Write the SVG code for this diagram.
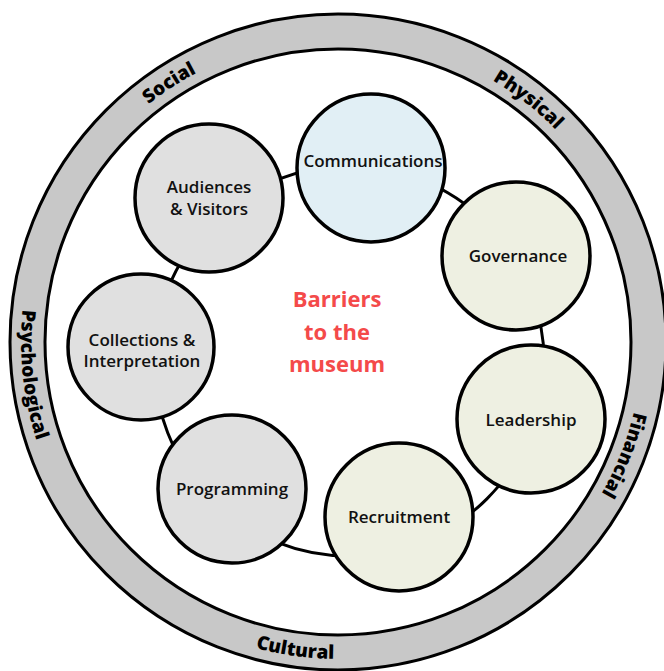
<svg xmlns="http://www.w3.org/2000/svg" width="664" height="671" viewBox="0 0 664 671">
<style>
.ring{stroke:#000;stroke-width:3}
.node{stroke:#000;stroke-width:3.5}
.gray{fill:#e0e0e0}
.blue{fill:#e1eff5}
.green{fill:#eef0e2}
.lbl{font-family:"Open Sans",Lato,sans-serif;font-size:17px;fill:#111;text-anchor:middle;font-weight:600}
.rl{font-family:"Open Sans","DejaVu Sans",sans-serif;font-size:19px;font-weight:800;fill:#000;text-anchor:middle}
.ctr{font-family:"Open Sans",Lato,sans-serif;font-size:22px;font-weight:700;fill:#f44a4a;text-anchor:middle}
</style>
<defs>
<path id="cw" d="M 34,342 A 304 304 0 1 1 642,342 A 304 304 0 1 1 34,342" fill="none"/>
<path id="ccw" d="M 338,25 A 317 317 0 1 0 338,659 A 317 317 0 1 0 338,25" fill="none"/>
</defs>
<g id="ring">
<circle cx="338" cy="342" r="328" fill="#c8c8c8" class="ring"/>
<circle cx="338" cy="342" r="293" fill="#fff" class="ring"/>
<text class="rl"><textPath href="#cw" startOffset="15.8%">Social</textPath></text>
<text class="rl"><textPath href="#cw" startOffset="35.6%">Physical</textPath></text>
<text class="rl"><textPath href="#cw" startOffset="56%">Financial</textPath></text>
<text class="rl"><textPath href="#ccw" startOffset="47.8%">Cultural</textPath></text>
<text class="rl"><textPath href="#ccw" startOffset="26.7%">Psychological</textPath></text>
</g>
<g id="connectors">
<circle cx="349" cy="361" r="195" fill="none" stroke="#000" stroke-width="3"/>
</g>
<g id="center-label">
<text class="ctr" x="337" y="307">Barriers</text>
<text class="ctr" x="337" y="340">to the</text>
<text class="ctr" x="337" y="372">museum</text>
</g>
<g id="communications">
<circle cx="371" cy="168" r="74" class="node blue"/>
<text class="lbl" x="373" y="167">Communications</text>
</g>
<g id="governance">
<circle cx="516" cy="256" r="74" class="node green"/>
<text class="lbl" x="518" y="262">Governance</text>
</g>
<g id="leadership">
<circle cx="531" cy="419" r="74" class="node green"/>
<text class="lbl" x="531" y="426">Leadership</text>
</g>
<g id="recruitment">
<circle cx="399" cy="517" r="74" class="node green"/>
<text class="lbl" x="399" y="523">Recruitment</text>
</g>
<g id="programming">
<circle cx="232" cy="489" r="74" class="node gray"/>
<text class="lbl" x="232" y="495">Programming</text>
</g>
<g id="collections">
<circle cx="141" cy="347" r="73" class="node gray"/>
<text class="lbl" x="142" y="346">Collections &amp;</text>
<text class="lbl" x="142" y="367">Interpretation</text>
</g>
<g id="audiences">
<circle cx="209" cy="198" r="74" class="node gray"/>
<text class="lbl" x="209" y="193">Audiences</text>
<text class="lbl" x="209" y="215">&amp; Visitors</text>
</g>
</svg>
